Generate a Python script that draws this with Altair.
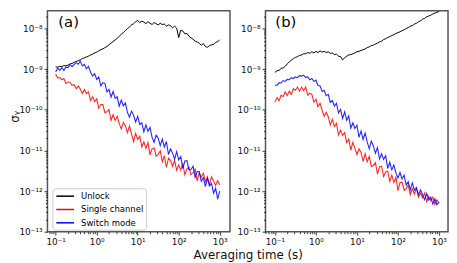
import math
import altair as alt
import pandas as pd

# averaging time grid (s)
tau = [0.1, 0.1122, 0.1259, 0.1413, 0.1585, 0.1778, 0.1995, 0.2239, 0.2512, 0.2818,
       0.3162, 0.3548, 0.3981, 0.4467, 0.5012, 0.5623, 0.631, 0.7079, 0.7943, 0.8913,
       1.0, 1.122, 1.259, 1.413, 1.585, 1.778, 1.995, 2.239, 2.512, 2.818,
       3.162, 3.548, 3.981, 4.467, 5.012, 5.623, 6.31, 7.079, 7.943, 8.913,
       10.0, 11.22, 12.59, 14.13, 15.85, 17.78, 19.95, 22.39, 25.12, 28.18,
       31.62, 35.48, 39.81, 44.67, 50.12, 56.23, 63.1, 70.79, 79.43, 89.13,
       100.0, 112.2, 125.9, 141.3, 158.5, 177.8, 199.5, 223.9, 251.2, 281.8,
       316.2, 354.8, 398.1, 446.7, 501.2, 562.3, 631.0, 707.9, 794.3, 891.3, 1000.0]

# log10 of Allan deviation, panel (a)
a_unlock_exp = [-8.94, -8.95, -8.93, -8.94, -8.91, -8.92, -8.90, -8.87, -8.86, -8.83,
                -8.81, -8.79, -8.77, -8.74, -8.72, -8.70, -8.68, -8.65, -8.63, -8.60,
                -8.58, -8.55, -8.52, -8.50, -8.47, -8.44, -8.40, -8.36, -8.32, -8.28,
                -8.24, -8.19, -8.14, -8.10, -8.05, -8.00, -7.96, -7.91, -7.88, -7.83,
                -7.80, -7.85, -7.82, -7.84, -7.88, -7.83, -7.87, -7.90, -7.85, -7.88,
                -7.91, -7.87, -7.90, -7.89, -7.94, -7.91, -7.93, -7.98, -7.94, -7.99,
                -8.22, -8.04, -8.06, -8.13, -8.12, -8.19, -8.23, -8.26, -8.31, -8.33,
                -8.36, -8.41, -8.37, -8.44, -8.46, -8.42, -8.40, -8.39, -8.34, -8.32, -8.28]
a_single_exp = [-9.12, -9.22, -9.20, -9.26, -9.23, -9.35, -9.32, -9.32, -9.40, -9.38,
                -9.48, -9.41, -9.49, -9.60, -9.50, -9.60, -9.56, -9.77, -9.68, -9.80,
                -9.73, -9.96, -9.87, -9.87, -10.07, -10.05, -9.99, -10.26, -10.12, -10.26,
                -10.16, -10.34, -10.47, -10.31, -10.39, -10.56, -10.40, -10.59, -10.78, -10.58,
                -10.73, -10.65, -10.91, -10.79, -10.95, -10.81, -11.11, -10.96, -10.94, -11.14,
                -11.10, -11.01, -11.28, -11.13, -11.42, -11.19, -11.25, -11.39, -11.25, -11.49,
                -11.36, -11.48, -11.33, -11.60, -11.45, -11.41, -11.60, -11.55, -11.46, -11.75,
                -11.55, -11.66, -11.56, -11.77, -11.65, -11.84, -11.65, -11.75, -11.86, -11.74, -11.85]
a_switch_exp = [-9.07, -8.97, -9.03, -8.96, -9.03, -8.95, -8.96, -8.89, -8.94, -8.89,
                -8.84, -8.88, -8.80, -8.92, -8.88, -8.99, -8.93, -9.07, -9.17, -9.11,
                -9.25, -9.19, -9.41, -9.33, -9.35, -9.56, -9.50, -9.69, -9.55, -9.72,
                -9.68, -9.91, -9.76, -9.90, -9.83, -10.06, -10.18, -10.03, -10.13, -10.30,
                -10.16, -10.36, -10.32, -10.54, -10.37, -10.53, -10.43, -10.68, -10.80, -10.62,
                -10.70, -10.88, -10.72, -10.92, -10.78, -11.10, -10.96, -11.06, -11.22, -11.03,
                -11.23, -11.15, -11.45, -11.26, -11.25, -11.48, -11.47, -11.39, -11.66, -11.52,
                -11.52, -11.76, -11.67, -11.89, -11.69, -11.87, -11.81, -12.05, -11.93, -12.20, -12.00]

# panel (b)
b_unlock_exp = [-9.08, -9.04, -9.03, -8.98, -8.97, -8.93, -8.87, -8.82, -8.78, -8.74,
                -8.71, -8.69, -8.66, -8.65, -8.62, -8.62, -8.59, -8.61, -8.57, -8.60,
                -8.56, -8.59, -8.55, -8.58, -8.56, -8.59, -8.57, -8.61, -8.60, -8.64,
                -8.63, -8.68, -8.69, -8.77, -8.72, -8.68, -8.65, -8.64, -8.62, -8.60,
                -8.57, -8.56, -8.54, -8.52, -8.50, -8.47, -8.45, -8.42, -8.41, -8.38,
                -8.36, -8.33, -8.31, -8.27, -8.25, -8.22, -8.20, -8.17, -8.15, -8.12,
                -8.10, -8.08, -8.05, -8.03, -8.00, -7.98, -7.94, -7.93, -7.89, -7.87,
                -7.83, -7.81, -7.77, -7.75, -7.71, -7.69, -7.67, -7.64, -7.62, -7.60, -7.58]
b_single_exp = [-9.81, -9.70, -9.78, -9.64, -9.67, -9.56, -9.65, -9.54, -9.62, -9.48,
                -9.52, -9.44, -9.54, -9.44, -9.53, -9.44, -9.64, -9.59, -9.62, -9.81,
                -9.74, -9.92, -9.84, -10.01, -10.16, -10.06, -10.17, -10.37, -10.23, -10.41,
                -10.33, -10.62, -10.50, -10.63, -10.56, -10.81, -10.72, -10.99, -10.80, -10.95,
                -11.10, -10.96, -11.05, -11.27, -11.08, -11.28, -11.15, -11.40, -11.37, -11.30,
                -11.58, -11.40, -11.39, -11.64, -11.53, -11.51, -11.76, -11.61, -11.79, -11.66,
                -11.99, -11.79, -11.78, -11.98, -11.94, -11.85, -12.09, -11.94, -12.07, -11.94,
                -12.15, -12.05, -12.17, -12.05, -12.26, -12.13, -12.24, -12.15, -12.33, -12.22, -12.30]
b_switch_exp = [-9.39, -9.40, -9.33, -9.34, -9.28, -9.30, -9.25, -9.26, -9.21, -9.23,
                -9.19, -9.21, -9.16, -9.17, -9.15, -9.20, -9.19, -9.26, -9.23, -9.30,
                -9.27, -9.40, -9.41, -9.55, -9.52, -9.65, -9.62, -9.82, -9.77, -9.91,
                -9.84, -10.08, -9.99, -10.21, -10.05, -10.26, -10.15, -10.45, -10.32, -10.46,
                -10.38, -10.68, -10.52, -10.73, -10.57, -10.79, -10.96, -10.77, -10.89, -11.07,
                -10.93, -11.21, -11.08, -11.22, -11.13, -11.44, -11.29, -11.48, -11.36, -11.56,
                -11.68, -11.54, -11.70, -11.61, -11.85, -11.77, -11.97, -11.80, -11.98, -11.91,
                -12.09, -11.97, -12.09, -12.21, -12.06, -12.22, -12.15, -12.32, -12.19, -12.34, -12.27]

series_names = ["Unlock", "Single channel", "Switch mode"]
series_colors = ["#000000", "#ff0000", "#0000ff"]
panel_labels = ["(a)", "(b)"]

x_major_values = [0.1, 1, 10, 100, 1000]
x_major_labels = ["10⁻¹", "10⁰", "10¹", "10²", "10³"]
y_major_values = [1e-13, 1e-12, 1e-11, 1e-10, 1e-9, 1e-8]
y_major_labels = ["10⁻¹³", "10⁻¹²", "10⁻¹¹", "10⁻¹⁰", "10⁻⁹", "10⁻⁸"]
x_title = "Averaging time (s)"
y_title = "σᵧ"

a_x_domain = [10 ** -1.2, 10 ** 3.25]
b_x_domain = [10 ** -1.23, 10 ** 3.22]
y_domain = [1e-13, 10 ** -7.56]

FONT = "DejaVu Sans"
W, H = 185, 224


def label_expr(values, labels):
    parts = []
    for v, l in zip(values, labels):
        parts.append(f"abs(log(datum.value)/LN10 - ({math.log10(v):.3f})) < 0.01 ? '{l}' : ")
    return "".join(parts) + "''"


def minor_ticks(lo, hi):
    out = []
    for n in range(-14, 4):
        for k in range(2, 10):
            v = k * 10.0 ** n
            if lo <= v <= hi:
                out.append(v)
    return out


def make_frame(exps):
    rows = []
    for name, e in zip(series_names, exps):
        for t, v in zip(tau, e):
            rows.append({"tau": t, "sigma": 10 ** v, "series": name})
    return pd.DataFrame(rows)


def panel(exps, xdom, label, label_x, legend, y_title_on, x_title_on):
    df = make_frame(exps)
    xs = alt.Scale(type="log", domain=xdom, nice=False)
    ys = alt.Scale(type="log", domain=y_domain, nice=False)
    cs = alt.Scale(domain=series_names, range=series_colors)

    xkw = dict(orient="bottom", values=x_major_values,
               labelExpr=label_expr(x_major_values, x_major_labels),
               tickSize=3.5, labelPadding=2, domain=False, grid=False,
               labelFontSize=9)
    if x_title_on:
        xkw.update(title=x_title, titleX=-18, titleY=27, titleBaseline="alphabetic",
                   titleAlign="center", titleFontSize=12, titleFontWeight="normal")
    else:
        xkw.update(title=None)
    ykw = dict(orient="left", values=y_major_values,
               labelExpr=label_expr(y_major_values, y_major_labels),
               tickSize=3.5, labelPadding=2, domain=False, grid=False,
               labelFontSize=9)
    if y_title_on:
        ykw.update(title=y_title, titleX=-33, titleY=107, titleAngle=-90,
                   titleAlign="center", titleBaseline="middle", titleFontSize=12,
                   titleFontWeight="normal")
    else:
        ykw.update(title=None)
    major_x = alt.Axis(**xkw)
    major_y = alt.Axis(**ykw)
    minor_x = alt.Axis(orient="bottom", values=minor_ticks(*xdom), labels=False,
                       tickSize=2, domain=False, grid=False, title=None)
    minor_y = alt.Axis(orient="left", values=minor_ticks(*y_domain), labels=False,
                       tickSize=2, domain=False, grid=False, title=None)

    widths = [1.0, 1.1, 1.1]
    opac = [1.0, 0.85, 0.85]
    layers = []
    for i, name in enumerate(series_names):
        if i == 0:
            xa, ya = major_x, major_y
        elif i == 1:
            xa, ya = minor_x, minor_y
        else:
            xa, ya = None, None
        layers.append(
            alt.Chart(df)
            .transform_filter(alt.datum.series == name)
            .mark_line(strokeWidth=widths[i], opacity=opac[i], clip=True)
            .encode(
                x=alt.X("tau:Q", scale=xs, axis=xa),
                y=alt.Y("sigma:Q", scale=ys, axis=ya),
                color=alt.Color("series:N", scale=cs, legend=legend),
            )
        )
    txt = (
        alt.Chart(pd.DataFrame({"label": [label]}))
        .mark_text(font=FONT, fontSize=15, align="left", baseline="alphabetic", color="black")
        .encode(text="label:N", x=alt.value(label_x), y=alt.value(17))
    )
    return (
        alt.layer(*layers, txt)
        .resolve_axis(x="independent", y="independent")
        .properties(width=W, height=H)
    )


legend_a = alt.Legend(
    title=None, orient="none", legendX=5, legendY=180,
    symbolType="M-0.8,0H2.8", symbolSize=100, symbolStrokeWidth=1.5,
    labelFontSize=8.6, labelFont=FONT, labelColor="black", labelOffset=15,
    padding=2, rowPadding=2.5, fillColor="rgba(255,255,255,0.8)",
    strokeColor="#cccccc", cornerRadius=3,
)

pa = panel([a_unlock_exp, a_single_exp, a_switch_exp], a_x_domain, panel_labels[0], 11,
           legend_a, True, False)
pb = panel([b_unlock_exp, b_single_exp, b_switch_exp], b_x_domain, panel_labels[1], 10,
           None, False, True)

chart = (
    alt.hconcat(pa, pb, spacing=36, bounds="flush")
    .resolve_scale(x="independent", y="independent", color="independent")
    .resolve_legend(color="independent")
    .properties(padding={"left": 0, "top": 0, "right": 0, "bottom": 0})
    .configure(font=FONT)
    .configure_view(stroke="#555555", strokeWidth=1.5)
    .configure_axis(labelFont=FONT, titleFont=FONT, labelColor="#111111",
                    titleColor="#111111", tickColor="#222222", tickWidth=0.9)
)

chart.save("out.html", embed_options={"renderer": "svg", "actions": False})
